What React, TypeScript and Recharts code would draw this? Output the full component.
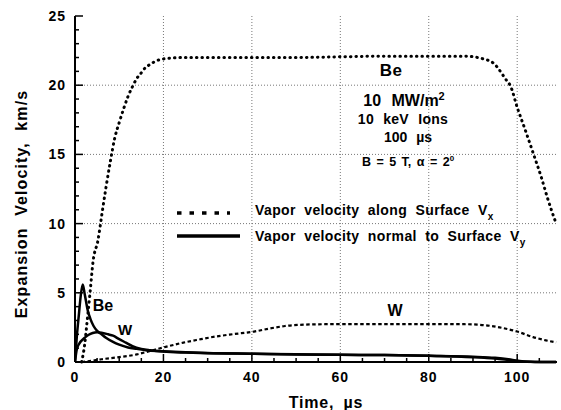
import { LineChart, Line, XAxis, YAxis, ReferenceLine, Legend } from 'recharts';

const FONT = '"Liberation Sans", Arial, Helvetica, sans-serif';

// axes
const xTicks = [0, 5, 10, 15, 20, 25, 30, 35, 40, 45, 50, 55, 60, 65, 70, 75, 80, 85, 90, 95, 100, 105];
const xLabelTicks = [0, 20, 40, 60, 80, 100];
const yTicks = [0, 1, 2, 3, 4, 5, 6, 7, 8, 9, 10, 11, 12, 13, 14, 15, 16, 17, 18, 19, 20, 21, 22, 23, 24, 25];
const yLabelTicks = [0, 5, 10, 15, 20, 25];
const xGrid = [20, 40, 60, 80, 100];
const yGrid = [5, 10, 15, 20];

// Be, velocity along surface (Vx)
const beVxTime = [1.5, 2.2, 2.7, 3.4, 4.1, 5.2, 6, 7, 8, 9, 10, 11, 12, 13, 14, 15, 16, 17, 18, 20, 25, 30, 40, 50, 60, 70, 80, 88, 92.3, 94.6, 97.7, 98.4, 100, 102, 103.6, 105.5, 106.8, 108.8];
const beVxSpeed = [0, 1.3, 2.8, 5.0, 7.3, 8.8, 10.5, 12.6, 14.5, 16.2, 17.3, 18.3, 19.2, 19.9, 20.5, 20.9, 21.3, 21.5, 21.7, 21.9, 22.0, 22.0, 22.0, 22.0, 22.05, 22.1, 22.1, 22.1, 21.9, 21.6, 20.3, 20.0, 18.4, 16.6, 15.1, 13.3, 11.9, 10.0];

// W, velocity along surface (Vx)
const wVxTime = [1.5, 4, 6, 10, 14, 17, 20, 24.5, 28, 32, 36, 40.5, 44, 47.5, 52, 56.5, 60, 70, 80, 88, 91, 93, 96, 100, 103.6, 106, 108.8];
const wVxSpeed = [0, 0.1, 0.2, 0.35, 0.55, 0.8, 1.05, 1.4, 1.62, 1.85, 2.02, 2.2, 2.42, 2.6, 2.7, 2.73, 2.74, 2.74, 2.74, 2.73, 2.7, 2.65, 2.5, 2.2, 1.8, 1.6, 1.42];

// Be, velocity normal to surface (Vy)
const beVyTime = [0, 0.4, 0.9, 1.3, 1.75, 2.2, 2.9, 3.5, 4.2, 5, 6, 7, 8.6, 10, 12, 14, 16, 20, 25, 30, 40, 50, 60, 70, 80, 90, 95, 98, 100, 102, 108.8];
const beVySpeed = [0, 1.8, 3.5, 4.8, 5.6, 4.9, 3.7, 3.1, 2.6, 2.25, 2.0, 1.75, 1.45, 1.25, 1.05, 0.95, 0.85, 0.78, 0.7, 0.65, 0.6, 0.55, 0.52, 0.5, 0.45, 0.35, 0.25, 0.15, 0.08, 0.02, 0];

// W, velocity normal to surface (Vy)
const wVyTime = [0, 0.4, 1, 2, 3, 4, 5, 6, 7.5, 8.6, 10, 11.5, 13, 15, 17, 20, 25, 30, 40, 50, 60, 70, 80, 90, 95, 98, 100, 102, 104, 108.8];
const wVySpeed = [0, 0.9, 1.35, 1.7, 1.95, 2.1, 2.15, 2.12, 2.0, 1.9, 1.65, 1.4, 1.15, 0.95, 0.85, 0.75, 0.68, 0.64, 0.6, 0.56, 0.52, 0.5, 0.45, 0.38, 0.3, 0.2, 0.1, 0.03, 0, 0];

const toPoints = (time: number[], speed: number[]) => time.map((t, i) => ({ time: t, v: speed[i] }));

const bold = { fontFamily: FONT, fontWeight: 'bold' as const, fill: '#000' };

const makeTick = (side: string, labels: number[]) => (props: any) => {
  const { x, y, payload } = props;
  const major = labels.includes(payload.value);
  const len = major ? 8 : 4;
  let line;
  if (side === 'bottom') line = <line x1={x} y1={y} x2={x} y2={y - len} />;
  else if (side === 'top') line = <line x1={x} y1={y} x2={x} y2={y + len} />;
  else if (side === 'left') line = <line x1={x} y1={y} x2={x + len} y2={y} />;
  else line = <line x1={x} y1={y} x2={x - len} y2={y} />;
  return (
    <g stroke="#000" strokeWidth={1.5}>
      {line}
      {major && side === 'bottom' && (
        <text x={x} y={y + 20} textAnchor="middle" fontSize={14} letterSpacing={1} stroke="none" {...bold}>
          {payload.value}
        </text>
      )}
      {major && side === 'left' && (
        <text x={x - 9} y={y + 5} textAnchor="end" fontSize={14} letterSpacing={1} stroke="none" {...bold}>
          {payload.value}
        </text>
      )}
    </g>
  );
};

const LegendBox = () => (
  <svg width={390} height={58}>
    <line x1={7} y1={17} x2={60} y2={17} stroke="#000" strokeWidth={3.5} strokeDasharray="4.5 8" />
    <line x1={7} y1={40} x2={70} y2={40} stroke="#000" strokeWidth={3.5} />
    <text x={85} y={19} fontSize={14} wordSpacing={4} letterSpacing={0.4} {...bold}>
      Vapor velocity along Surface V<tspan dy={5} fontSize={10}>x</tspan>
    </text>
    <text x={85} y={45} fontSize={14} wordSpacing={4} letterSpacing={0.4} {...bold}>
      Vapor velocity normal to Surface V<tspan dy={5} fontSize={10}>y</tspan>
    </text>
  </svg>
);

export default function App() {
  return (
    <div style={{ position: 'absolute', left: 0, top: 0, width: 561, height: 410, background: '#fff' }}>
      <LineChart width={561} height={410} margin={{ top: 16, right: 4, bottom: 0, left: 0 }}>
        {xGrid.map(v => (
          <ReferenceLine key={`gx${v}`} x={v} stroke="#777" strokeDasharray="1 2" />
        ))}
        {yGrid.map(v => (
          <ReferenceLine key={`gy${v}`} y={v} stroke="#777" strokeDasharray="1 2" />
        ))}
        <XAxis
          dataKey="time"
          type="number"
          domain={[0, 109]}
          ticks={xTicks}
          interval={0}
          height={48}
          tickSize={0}
          tickMargin={0}
          tickLine={false}
          axisLine={{ stroke: '#000', strokeWidth: 2 }}
          tick={makeTick('bottom', xLabelTicks)}
          allowDataOverflow
        />
        <XAxis
          xAxisId="top"
          orientation="top"
          type="number"
          domain={[0, 109]}
          ticks={xTicks}
          interval={0}
          height={0}
          tickSize={0}
          tickMargin={0}
          tickLine={false}
          axisLine={{ stroke: '#000', strokeWidth: 2 }}
          tick={makeTick('top', xLabelTicks)}
        />
        <YAxis
          type="number"
          domain={[0, 25]}
          ticks={yTicks}
          interval={0}
          width={75}
          tickSize={0}
          tickMargin={0}
          tickLine={false}
          axisLine={{ stroke: '#000', strokeWidth: 2 }}
          tick={makeTick('left', yLabelTicks)}
        />
        <YAxis
          yAxisId="right"
          orientation="right"
          type="number"
          domain={[0, 25]}
          ticks={yTicks}
          interval={0}
          width={0}
          tickSize={0}
          tickMargin={0}
          tickLine={false}
          axisLine={{ stroke: '#000', strokeWidth: 2 }}
          tick={makeTick('right', yLabelTicks)}
        />
        <Line data={toPoints(wVxTime, wVxSpeed)} dataKey="v" type="monotone" stroke="#000" strokeWidth={2.2} strokeDasharray="3.5 2.5" dot={false} isAnimationActive={false} />
        <Line data={toPoints(beVxTime, beVxSpeed)} dataKey="v" type="monotone" stroke="#000" strokeWidth={3} strokeLinecap="round" strokeDasharray="0.5 5" dot={false} isAnimationActive={false} />
        <Line data={toPoints(beVyTime, beVySpeed)} dataKey="v" type="monotone" stroke="#000" strokeWidth={2.5} dot={false} isAnimationActive={false} />
        <Line data={toPoints(wVyTime, wVySpeed)} dataKey="v" type="monotone" stroke="#000" strokeWidth={2.5} dot={false} isAnimationActive={false} />
        <Legend
          layout="horizontal"
          verticalAlign="middle"
          content={() => <LegendBox />}
          wrapperStyle={{ position: 'absolute', left: 170, top: 196, width: 390, height: 58 }}
        />
      </LineChart>
      <svg width={561} height={410} style={{ position: 'absolute', left: 0, top: 0, pointerEvents: 'none' }}>
        <text transform="translate(27,204) rotate(-90)" textAnchor="middle" fontSize={16} letterSpacing={1.1} wordSpacing={6} {...bold}>
          Expansion Velocity, km/s
        </text>
        <text x={326} y={408} textAnchor="middle" fontSize={16} letterSpacing={0.8} wordSpacing={4} {...bold}>
          Time, µs
        </text>
        <text x={391} y={76} textAnchor="middle" fontSize={17} letterSpacing={0.5} {...bold}>Be</text>
        <text x={404} y={106} textAnchor="middle" fontSize={16} wordSpacing={6} {...bold}>
          10 MW/m<tspan dy={-6} fontSize={11}>2</tspan>
        </text>
        <text x={403} y={124} textAnchor="middle" fontSize={14} wordSpacing={5} letterSpacing={0.3} {...bold}>10 keV Ions</text>
        <text x={408} y={142} textAnchor="middle" fontSize={14} wordSpacing={5} {...bold}>100 µs</text>
        <text x={408} y={166} textAnchor="middle" fontSize={12.5} wordSpacing={2} {...bold}>
          B = 5 T, α = 2<tspan dy={-5} fontSize={8}>0</tspan>
        </text>
        <text x={395} y={316} textAnchor="middle" fontSize={16} {...bold}>W</text>
        <text x={103} y={311} textAnchor="middle" fontSize={16} {...bold}>Be</text>
        <text x={125} y={335} textAnchor="middle" fontSize={15} {...bold}>W</text>
      </svg>
    </div>
  );
}
